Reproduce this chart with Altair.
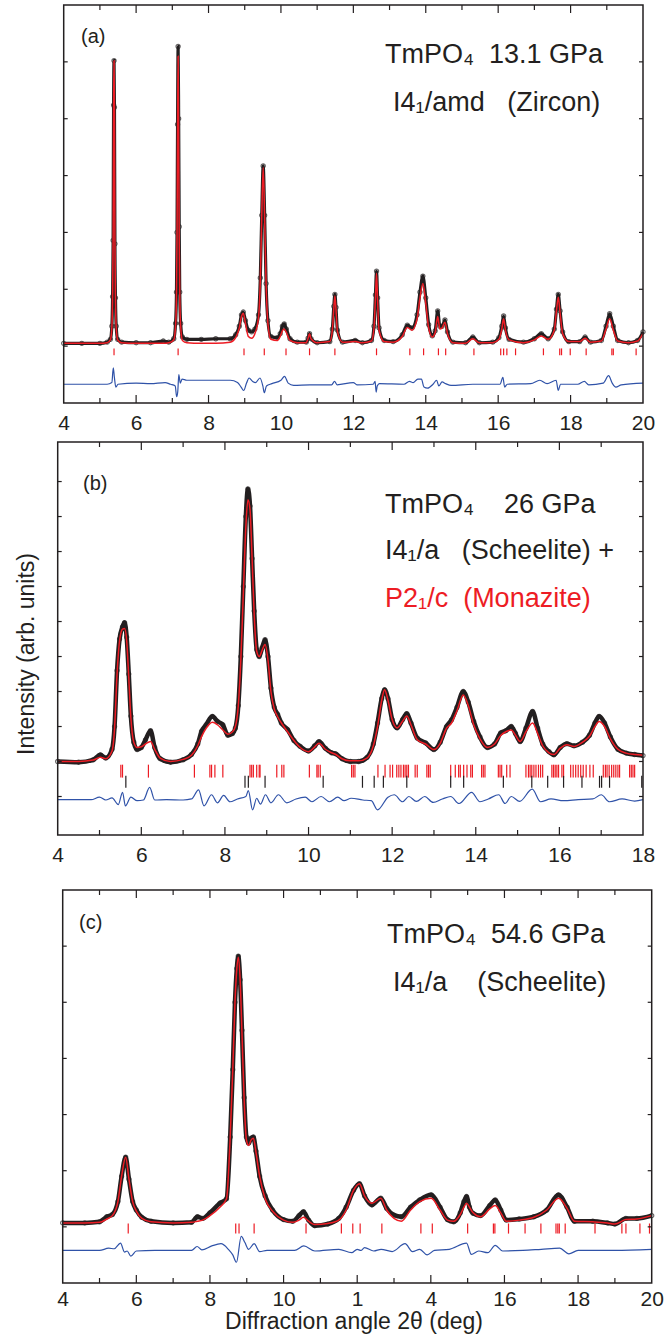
import altair as alt
import pandas as pd

# ---------------- data ----------------
# Panel (a)  TmPO4 13.1 GPa, zircon
A_X = [4.00, 4.50, 5.00, 5.20, 5.29, 5.33, 5.35, 5.365, 5.378, 5.39, 5.402, 5.415, 5.43, 5.45, 5.49, 5.60,
       6.00, 6.40, 6.75, 6.90, 7.04, 7.09, 7.115, 7.13, 7.145, 7.16, 7.175, 7.19, 7.205, 7.23, 7.28, 7.40,
       7.80, 8.20, 8.60, 8.75, 8.85, 8.91, 8.96, 9.02, 9.10, 9.19, 9.28, 9.38, 9.43, 9.47, 9.51, 9.55,
       9.59, 9.64, 9.72, 9.90, 9.98, 10.04, 10.09, 10.15, 10.25, 10.45, 10.70, 10.75, 10.79, 10.83, 11.00,
       11.35, 11.42, 11.46, 11.49, 11.52, 11.56, 11.70, 12.05, 12.25, 12.50, 12.57, 12.61, 12.64, 12.67,
       12.71, 12.85, 13.10, 13.35, 13.49, 13.62, 13.76, 13.84, 13.92, 14.00, 14.08, 14.18, 14.26, 14.33,
       14.39, 14.45, 14.53, 14.60, 14.75, 15.10, 15.30, 15.48, 15.85, 16.02, 16.10, 16.15, 16.20, 16.30,
       16.70, 17.00, 17.19, 17.38, 17.55, 17.61, 17.66, 17.71, 17.78, 17.95, 18.25, 18.40, 18.55, 18.85,
       18.98, 19.08, 19.18, 19.30, 19.60, 19.85, 20.00]
A_OBS = [1.05, 1.05, 1.05, 1.07, 1.12, 1.35, 1.87, 2.86, 5.24, 6.02, 5.20, 2.80, 1.85, 1.35, 1.12, 1.07,
         1.06, 1.06, 1.09, 1.07, 1.13, 1.40, 1.95, 3.00, 4.90, 6.27, 5.00, 3.10, 1.95, 1.40, 1.16, 1.12,
         1.12, 1.13, 1.13, 1.20, 1.35, 1.55, 1.60, 1.45, 1.28, 1.25, 1.30, 1.55, 2.20, 3.30, 4.17, 3.30,
         2.10, 1.45, 1.17, 1.15, 1.22, 1.35, 1.39, 1.30, 1.13, 1.07, 1.07, 1.14, 1.22, 1.13, 1.06,
         1.08, 1.30, 1.70, 1.91, 1.68, 1.28, 1.07, 1.10, 1.06, 1.10, 1.35, 1.90, 2.32, 1.85,
         1.32, 1.10, 1.08, 1.20, 1.37, 1.32, 1.55, 1.95, 2.23, 1.85, 1.38, 1.18, 1.27, 1.62,
         1.35, 1.35, 1.46, 1.25, 1.07, 1.06, 1.16, 1.06, 1.07, 1.15, 1.35, 1.53, 1.32, 1.12,
         1.07, 1.13, 1.22, 1.13, 1.30, 1.65, 1.91, 1.62, 1.25, 1.08, 1.08, 1.16, 1.07, 1.10,
         1.35, 1.57, 1.35, 1.10, 1.06, 1.10, 1.25]
A_CALC = [1.05, 1.05, 1.05, 1.06, 1.11, 1.33, 1.85, 2.85, 5.20, 6.02, 5.18, 2.85, 1.85, 1.33, 1.11, 1.06,
          1.05, 1.05, 1.05, 1.06, 1.11, 1.36, 1.90, 2.90, 4.80, 6.10, 4.80, 2.90, 1.90, 1.35, 1.10, 1.06,
          1.05, 1.05, 1.07, 1.15, 1.32, 1.52, 1.58, 1.40, 1.17, 1.14, 1.22, 1.50, 2.15, 3.30, 4.14, 3.25,
          2.10, 1.40, 1.12, 1.10, 1.17, 1.27, 1.30, 1.24, 1.10, 1.06, 1.06, 1.14, 1.22, 1.13, 1.06,
          1.08, 1.28, 1.66, 1.88, 1.65, 1.26, 1.07, 1.08, 1.06, 1.09, 1.32, 1.85, 2.28, 1.80,
          1.28, 1.08, 1.07, 1.17, 1.33, 1.28, 1.48, 1.85, 2.10, 1.75, 1.32, 1.16, 1.24, 1.52,
          1.30, 1.32, 1.42, 1.22, 1.06, 1.05, 1.13, 1.06, 1.06, 1.12, 1.30, 1.48, 1.28, 1.11,
          1.06, 1.11, 1.18, 1.12, 1.28, 1.62, 1.86, 1.58, 1.22, 1.08, 1.08, 1.14, 1.07, 1.09,
          1.30, 1.48, 1.28, 1.09, 1.06, 1.09, 1.22]
A_DIFF_X = [4.00, 5.20, 5.33, 5.37, 5.40, 5.44, 5.50, 6.00, 6.40, 6.80, 6.95, 7.08, 7.12, 7.15, 7.18, 7.22,
            7.27, 7.40, 8.00, 8.60, 8.80, 8.90, 8.97, 9.05, 9.12, 9.22, 9.30, 9.42, 9.50, 9.54, 9.60, 9.75,
            10.00, 10.10, 10.20, 10.35, 10.80, 11.40, 11.48, 11.55, 12.00, 12.10, 12.55, 12.60, 12.63, 12.66,
            12.72, 13.40, 13.55, 13.65, 13.78, 13.88, 13.95, 14.05, 14.20, 14.30, 14.36, 14.45, 14.55, 14.70,
            15.30, 16.05, 16.13, 16.18, 16.25, 16.90, 17.15, 17.35, 17.60, 17.66, 17.72, 18.20, 18.38, 18.50,
            18.90, 19.05, 19.15, 19.25, 19.40, 20.00]
A_DIFF = [0.33, 0.33, 0.36, 0.62, 0.45, 0.28, 0.33, 0.35, 0.34, 0.36, 0.33, 0.30, 0.11, 0.20, 0.50, 0.35,
          0.42, 0.40, 0.40, 0.40, 0.36, 0.28, 0.22, 0.35, 0.44, 0.38, 0.36, 0.44, 0.30, 0.18, 0.30, 0.34,
          0.40, 0.47, 0.35, 0.31, 0.32, 0.32, 0.38, 0.32, 0.36, 0.32, 0.33, 0.38, 0.19, 0.30,
          0.34, 0.33, 0.38, 0.36, 0.42, 0.42, 0.28, 0.26, 0.33, 0.40, 0.30, 0.37, 0.34, 0.31,
          0.33, 0.33, 0.45, 0.28, 0.33, 0.34, 0.40, 0.34, 0.40, 0.22, 0.33, 0.33, 0.38, 0.32,
          0.35, 0.48, 0.35, 0.28, 0.32, 0.35]
A_REFL = [5.39, 7.16, 8.98, 9.54, 10.14, 10.79, 11.49, 12.64, 13.56, 13.94, 14.35, 14.55, 15.33, 16.07,
          16.15, 16.24, 16.48, 17.25, 17.70, 17.75, 17.99, 18.43, 19.14, 19.18, 19.81]

# Panel (b)  TmPO4 26 GPa, scheelite + monazite
B_X = [4.00, 4.50, 4.85, 5.02, 5.15, 5.30, 5.36, 5.42, 5.48, 5.55, 5.60, 5.65, 5.70, 5.75, 5.82, 5.90,
       6.00, 6.10, 6.22, 6.32, 6.45, 6.70, 7.00, 7.20, 7.35, 7.44, 7.55, 7.70, 7.82, 7.95, 8.07, 8.18,
       8.25, 8.32, 8.38, 8.44, 8.50, 8.55, 8.60, 8.65, 8.70, 8.76, 8.82, 8.89, 8.96, 9.03, 9.10, 9.18,
       9.26, 9.35, 9.50, 9.65, 9.80, 10.00, 10.15, 10.25, 10.40, 10.55, 10.65, 10.80, 11.00, 11.20,
       11.40, 11.55, 11.65, 11.75, 11.82, 11.90, 12.00, 12.12, 12.25, 12.35, 12.45, 12.60, 12.80, 13.00,
       13.15, 13.30, 13.42, 13.55, 13.70, 13.82, 13.95, 14.10, 14.28, 14.45, 14.60, 14.72, 14.85, 14.95,
       15.06, 15.20, 15.36, 15.48, 15.60, 15.75, 15.87, 16.02, 16.18, 16.35, 16.55, 16.72, 16.85, 16.95,
       17.08, 17.22, 17.40, 17.60, 17.80, 18.00]
B_OBS = [2.00, 1.98, 2.05, 2.19, 2.10, 2.35, 3.00, 4.60, 5.50, 5.85, 5.97, 5.55, 4.50, 3.30, 2.55, 2.34,
         2.40, 2.62, 2.88, 2.40, 2.08, 1.98, 2.05, 2.20, 2.50, 2.86, 3.05, 3.29, 3.15, 3.05, 2.75, 2.80,
         2.95, 3.60, 5.00, 7.00, 9.00, 9.79, 9.30, 7.80, 6.30, 5.20, 5.00, 5.25, 5.48, 5.00, 4.10, 3.55,
         3.35, 3.10, 2.91, 2.60, 2.43, 2.30, 2.45, 2.57, 2.38, 2.25, 2.22, 2.08, 2.00, 2.00,
         2.12, 2.50, 3.10, 3.80, 4.05, 3.80, 3.20, 2.96, 3.20, 3.37, 3.10, 2.67, 2.53, 2.34,
         2.55, 3.00, 3.19, 3.55, 4.00, 3.70, 3.15, 2.70, 2.40, 2.50, 2.82, 2.88, 3.00, 2.80,
         2.57, 2.95, 3.43, 2.95, 2.50, 2.28, 2.19, 2.40, 2.51, 2.45, 2.55, 2.75, 3.10, 3.29,
         3.10, 2.70, 2.35, 2.24, 2.20, 2.17]
B_CALC = [2.00, 2.00, 2.04, 2.12, 2.08, 2.30, 2.95, 4.50, 5.45, 5.78, 5.80, 5.45, 4.40, 3.25, 2.55, 2.40,
          2.42, 2.50, 2.57, 2.35, 2.10, 2.00, 2.06, 2.18, 2.45, 2.71, 2.95, 3.12, 3.05, 2.90, 2.78, 2.85,
          3.00, 3.60, 4.90, 6.80, 8.70, 9.48, 9.20, 7.80, 6.20, 5.15, 5.00, 5.18, 5.34, 4.90, 4.00, 3.50,
          3.28, 3.10, 2.85, 2.60, 2.40, 2.28, 2.42, 2.52, 2.35, 2.25, 2.20, 2.08, 2.02, 2.02,
          2.10, 2.45, 3.00, 3.75, 4.05, 3.75, 3.20, 2.96, 3.15, 3.30, 3.05, 2.62, 2.50, 2.34,
          2.52, 2.95, 3.10, 3.45, 3.90, 3.60, 3.05, 2.65, 2.40, 2.50, 2.75, 2.85, 2.90, 2.75,
          2.57, 2.85, 3.10, 2.80, 2.45, 2.25, 2.20, 2.38, 2.48, 2.43, 2.55, 2.72, 3.00, 3.14,
          3.00, 2.65, 2.35, 2.24, 2.20, 2.18]
B_DIFF_X = [4.00, 4.80, 5.00, 5.15, 5.30, 5.45, 5.55, 5.62, 5.75, 5.90, 6.05, 6.20, 6.32, 6.60, 7.00, 7.20,
            7.37, 7.50, 7.68, 7.82, 7.97, 8.12, 8.30, 8.50, 8.56, 8.66, 8.76, 8.85, 8.97, 9.10, 9.28, 9.48,
            9.70, 9.92, 10.08, 10.30, 10.50, 10.70, 10.85, 11.02, 11.30, 11.50, 11.65, 11.90, 12.05, 12.25,
            12.40, 12.58, 12.78, 12.98, 13.20, 13.40, 13.60, 13.90, 14.10, 14.30, 14.55, 14.70, 14.85, 15.05,
            15.35, 15.55, 15.80, 16.10, 16.45, 16.80, 17.00, 17.20, 17.50, 17.80, 18.00]
B_DIFF = [0.91, 0.91, 0.98, 0.90, 0.96, 0.77, 1.12, 0.73, 0.98, 0.88, 0.90, 1.26, 0.90, 0.91, 0.90, 0.93,
          1.19, 0.73, 1.05, 0.82, 1.03, 0.85, 0.93, 1.00, 1.17, 0.62, 0.95, 0.78, 1.05, 0.82, 1.05, 0.82,
          0.93, 0.98, 0.85, 1.00, 0.85, 0.98, 0.88, 0.95, 0.90, 0.88, 0.62, 0.98, 1.05, 0.85,
          1.00, 0.86, 1.00, 0.83, 0.93, 1.00, 0.80, 1.12, 0.85, 0.93, 1.05, 0.80, 1.00, 0.86,
          1.21, 0.85, 0.93, 0.88, 0.91, 0.93, 1.05, 0.85, 0.93, 0.87, 0.91]
B_REFL_RED = [5.51, 5.55, 6.17, 7.27, 7.64, 7.68, 7.76, 7.95, 8.60, 8.64, 8.68, 8.76, 8.82, 8.84, 9.24,
              9.36, 9.41, 10.02, 10.20, 10.23, 10.28, 11.03, 11.07, 11.11, 11.66, 11.83, 11.95, 12.01,
              12.11, 12.16, 12.21, 12.27, 12.31, 12.35, 12.39, 12.55, 12.60, 12.83, 12.87, 12.91, 13.40,
              13.51, 13.59, 13.63, 13.71, 13.79, 13.88, 13.92, 14.14, 14.18, 14.22, 14.54, 14.58, 14.62,
              14.74, 14.82, 15.20, 15.26, 15.30, 15.34, 15.39, 15.44, 15.50, 15.55, 15.60, 15.82, 15.86,
              15.90, 15.94, 15.98, 16.06, 16.10, 16.27, 16.33, 16.39, 16.45, 16.51, 16.57, 16.64, 16.73,
              16.81, 17.05, 17.10, 17.14, 17.19, 17.25, 17.30, 17.35, 17.40, 17.44, 17.68, 17.72, 17.76,
              17.80]
B_REFL_BLACK = [5.63, 8.48, 8.56, 8.96, 10.35, 11.29, 11.57, 11.79, 12.35, 13.40, 13.71, 14.66, 15.34,
                15.72, 16.10, 16.54, 16.96, 17.01, 17.20, 17.97]

# Panel (c)  TmPO4 54.6 GPa, scheelite
C_X = [4.00, 4.60, 5.00, 5.20, 5.35, 5.50, 5.60, 5.71, 5.80, 5.90, 6.00, 6.15, 6.40, 7.00, 7.50, 7.66,
       7.80, 8.00, 8.27, 8.45, 8.55, 8.62, 8.68, 8.73, 8.77, 8.82, 8.87, 8.93, 8.99, 9.05, 9.12, 9.18,
       9.25, 9.35, 9.50, 9.70, 10.00, 10.25, 10.42, 10.54, 10.68, 10.85, 11.20, 11.50, 11.70, 11.90,
       12.06, 12.20, 12.40, 12.64, 12.80, 13.00, 13.20, 13.45, 13.70, 14.01, 14.25, 14.45, 14.62, 14.80,
       14.90, 14.97, 15.05, 15.15, 15.35, 15.60, 15.75, 15.90, 16.05, 16.40, 16.80, 17.15, 17.47, 17.70,
       17.90, 18.40, 18.80, 19.00, 19.30, 19.60, 20.00]
C_OBS = [1.07, 1.07, 1.09, 1.18, 1.22, 1.45, 1.90, 2.24, 1.85, 1.45, 1.30, 1.17, 1.10, 1.07, 1.08, 1.18,
         1.15, 1.25, 1.42, 1.50, 2.60, 3.80, 5.00, 5.60, 5.82, 5.40, 4.50, 3.30, 2.60, 2.49, 2.58, 2.60,
         2.35, 1.90, 1.55, 1.30, 1.13, 1.10, 1.20, 1.27, 1.12, 1.02, 1.05, 1.15, 1.35, 1.65,
         1.77, 1.55, 1.39, 1.51, 1.33, 1.21, 1.18, 1.35, 1.48, 1.57, 1.35, 1.13, 1.09, 1.25,
         1.45, 1.54, 1.35, 1.24, 1.20, 1.38, 1.48, 1.30, 1.12, 1.14, 1.18, 1.30, 1.57, 1.35,
         1.10, 1.10, 1.07, 1.05, 1.15, 1.15, 1.20]
C_CALC = [1.07, 1.07, 1.08, 1.14, 1.20, 1.45, 1.90, 2.24, 1.85, 1.45, 1.28, 1.15, 1.09, 1.07, 1.08, 1.10,
          1.12, 1.20, 1.35, 1.50, 2.60, 3.80, 5.00, 5.60, 5.80, 5.40, 4.45, 3.25, 2.55, 2.45, 2.55, 2.58,
          2.33, 1.90, 1.50, 1.28, 1.12, 1.08, 1.12, 1.17, 1.10, 1.04, 1.06, 1.12, 1.30, 1.65,
          1.77, 1.55, 1.42, 1.51, 1.30, 1.15, 1.10, 1.30, 1.45, 1.51, 1.30, 1.12, 1.10, 1.22,
          1.35, 1.42, 1.35, 1.25, 1.18, 1.32, 1.38, 1.25, 1.10, 1.12, 1.17, 1.30, 1.51, 1.33,
          1.10, 1.09, 1.07, 1.05, 1.13, 1.14, 1.20]
C_DIFF_X = [4.00, 5.00, 5.25, 5.40, 5.57, 5.68, 5.75, 5.85, 6.00, 6.50, 7.50, 7.65, 7.78, 8.05, 8.30, 8.50,
            8.62, 8.72, 8.85, 8.95, 9.05, 9.20, 9.35, 9.55, 10.30, 10.55, 10.85, 11.50, 11.85, 12.00, 12.10,
            12.20, 12.45, 12.65, 12.95, 13.30, 13.50, 13.70, 13.90, 14.10, 14.50, 14.97, 15.10, 15.30, 15.55,
            15.75, 15.95, 16.50, 17.00, 17.50, 17.75, 18.00, 19.00, 20.00]
C_DIFF = [0.58, 0.58, 0.62, 0.61, 0.71, 0.55, 0.57, 0.48, 0.57, 0.58, 0.58, 0.65, 0.59, 0.66, 0.70, 0.60,
          0.50, 0.37, 0.83, 0.72, 0.60, 0.70, 0.56, 0.58, 0.58, 0.66, 0.57, 0.60, 0.54, 0.60, 0.58,
          0.63, 0.57, 0.60, 0.56, 0.70, 0.56, 0.60, 0.50, 0.58, 0.60, 0.71, 0.51, 0.57, 0.54,
          0.67, 0.57, 0.58, 0.60, 0.62, 0.52, 0.58, 0.58, 0.60]
C_REFL = [5.78, 8.70, 8.79, 9.20, 10.61, 11.57, 11.88, 12.08, 12.67, 13.73, 14.04, 15.00, 15.70, 15.74,
          16.11, 16.56, 16.99, 17.40, 17.45, 17.49, 17.65, 18.46, 19.19, 19.30, 19.68, 19.94]

# axis tick values
A_XLABELS = [4, 6, 8, 10, 12, 14, 16, 18, 20]
A_XMAJOR = [6, 8, 10, 12, 14, 16, 18]
A_XMINOR = [5, 7, 9, 11, 13, 15, 17, 19]
A_YTICKS = [1, 2, 3, 4, 5, 6]
B_XLABELS = [4, 6, 8, 10, 12, 14, 16, 18]
B_XMAJOR = [6, 8, 10, 12, 14, 16]
B_XMINOR = [5, 7, 9, 11, 13, 15, 17]
B_YTICKS = [1, 2, 3, 4, 5, 6, 7, 8, 9, 10]
C_XLABELS = A_XLABELS
C_XMAJOR = A_XMAJOR
C_XMINOR = A_XMINOR
C_YTICKS = A_YTICKS

# ---------------- styling ----------------
FONT = "Liberation Sans"
INK = "#231f20"
RED = "#ed1c24"
BLUE = "#2f52a8"
NB = "\u00a0"
W = 652
ONE = pd.DataFrame({"k": [0]})


def text(s, x, y, size, color=INK, align="left", angle=0, baseline="alphabetic"):
    return alt.Chart(ONE).mark_text(
        text=s, font=FONT, fontSize=size, color=color, align=align,
        baseline=baseline, angle=angle
    ).encode(x=alt.value(x), y=alt.value(y))


def panel(xs, obs, calc, dx, dy, refl_rows, xdom, xr, ydom, yr, H,
          xlabels, xmajor, xminor, yticks, texts, obs_w, label_expr=None, label_pad=9):
    sx = alt.Scale(domain=xdom, range=xr, nice=False, zero=False)
    sy = alt.Scale(domain=ydom, range=yr, nice=False, zero=False)
    axkw = dict(values=xlabels, domain=False, ticks=False, grid=False,
                labelFont=FONT, labelFontSize=21, labelColor=INK, labelPadding=label_pad,
                labelFlush=False, labelOverlap=False, title=None)
    if label_expr:
        axkw["labelExpr"] = label_expr
    ax = alt.Axis(**axkw)
    X = lambda f: alt.X(f, scale=sx, axis=ax)
    Y = lambda f: alt.Y(f, scale=sy, axis=None)

    prof = pd.DataFrame({"x": xs, "obs": obs, "calc": calc})
    diff = pd.DataFrame({"x": dx, "d": dy})
    layers = []
    layers.append(alt.Chart(prof).mark_line(color=INK, strokeWidth=obs_w, interpolate="monotone")
                  .encode(x=X("x:Q"), y=Y("obs:Q")))
    layers.append(alt.Chart(prof).mark_point(shape="circle", filled=False, color=INK, size=18, strokeWidth=1.1)
                  .encode(x=X("x:Q"), y=Y("obs:Q")))
    layers.append(alt.Chart(prof).mark_line(color=RED, strokeWidth=1.5, interpolate="monotone")
                  .encode(x=X("x:Q"), y=Y("calc:Q")))
    for pos, y0, y1, col in refl_rows:
        layers.append(alt.Chart(pd.DataFrame({"p": pos})).mark_rule(color=col, strokeWidth=1.2)
                      .encode(x=X("p:Q"),
                              y=alt.Y(datum=y0, type="quantitative", scale=sy, axis=None),
                              y2=alt.Y2(datum=y1)))
    layers.append(alt.Chart(diff).mark_line(color=BLUE, strokeWidth=1.2, interpolate="monotone")
                  .encode(x=X("x:Q"), y=Y("d:Q")))
    # frame
    layers.append(alt.Chart(ONE).mark_rect(fill="white", fillOpacity=0, stroke=INK, strokeWidth=1.5)
                  .encode(x=alt.X(datum=xdom[0], type="quantitative", scale=sx, axis=ax),
                          x2=alt.X2(datum=xdom[1]),
                          y=alt.Y(datum=ydom[0], type="quantitative", scale=sy, axis=None),
                          y2=alt.Y2(datum=ydom[1])))
    bottom, top = yr
    left, right = xr
    for vals, ln in ((xmajor, 8), (xminor, 5)):
        df = pd.DataFrame({"t": vals})
        layers.append(alt.Chart(df).mark_rule(color=INK, strokeWidth=1.2)
                      .encode(x=X("t:Q"), y=alt.value(bottom), y2=alt.value(bottom - ln)))
        layers.append(alt.Chart(df).mark_rule(color=INK, strokeWidth=1.2)
                      .encode(x=X("t:Q"), y=alt.value(top), y2=alt.value(top + ln)))
    ydf = pd.DataFrame({"t": yticks})
    layers.append(alt.Chart(ydf).mark_rule(color=INK, strokeWidth=1.2)
                  .encode(y=Y("t:Q"), x=alt.value(left), x2=alt.value(left + 4)))
    layers.append(alt.Chart(ydf).mark_rule(color=INK, strokeWidth=1.2)
                  .encode(y=Y("t:Q"), x=alt.value(right), x2=alt.value(right - 4)))
    layers.extend(texts)
    return alt.layer(*layers).properties(width=W, height=H)


pa = panel(
    A_X, A_OBS, A_CALC, A_DIFF_X, A_DIFF, [(A_REFL, 0.96, 0.84, RED)],
    [4, 20], [63.7, 643], [0, 7], [403, 5], 403,
    A_XLABELS, A_XMAJOR, A_XMINOR, A_YTICKS,
    [text("(a)", 81, 43, 20),
     text("TmPO₄" + NB * 2 + "13.1 GPa", 385, 63, 27),
     text("I4₁/amd" + NB * 3 + "(Zircon)", 393, 111, 27)],
    3.2)

pb = panel(
    B_X, B_OBS, B_CALC, B_DIFF_X, B_DIFF,
    [(B_REFL_RED, 1.91, 1.54, RED), (B_REFL_BLACK, 1.59, 1.25, INK)],
    [4, 18], [57.7, 643], [-0.1, 11.13], [432, 39], 432,
    B_XLABELS, B_XMAJOR, B_XMINOR, B_YTICKS,
    [text("(b)", 83, 87, 20),
     text("TmPO₄" + NB * 4 + "26 GPa", 385, 110, 27),
     text("I4₁/a" + NB * 3 + "(Scheelite) +", 385, 156, 27),
     text("P2₁/c" + NB * 2 + "(Monazite)", 385, 204, 27, color=RED),
     text("Intensity (arb. units)", 27, 251, 23, align="center", angle=270, baseline="middle")],
    4.5)

pc = panel(
    C_X, C_OBS, C_CALC, C_DIFF_X, C_DIFF, [(C_REFL, 1.06, 0.88, RED)],
    [4, 20], [62.7, 651.7], [0, 7], [448, 55], 448,
    C_XLABELS, C_XMAJOR, C_XMINOR, C_YTICKS,
    [text("(c)", 79, 94, 20),
     text("TmPO₄" + NB * 2 + "54.6 GPa", 387, 108, 27),
     text("I4₁/a" + NB * 4 + "(Scheelite)", 393, 156, 27),
     text("Diffraction angle 2θ (deg)", 354, 494, 23, align="center")],
    4.5,
    label_expr="datum.value == 12 ? '1\u2007' : (datum.value == 14 ? '\u20074' : datum.label)",
    label_pad=5)

chart = alt.vconcat(pa, pb, pc, spacing=0, bounds="flush").properties(
    padding=0, background="white"
).configure_view(strokeWidth=0)

chart.save("out.html", embed_options={"renderer": "svg", "actions": False})
